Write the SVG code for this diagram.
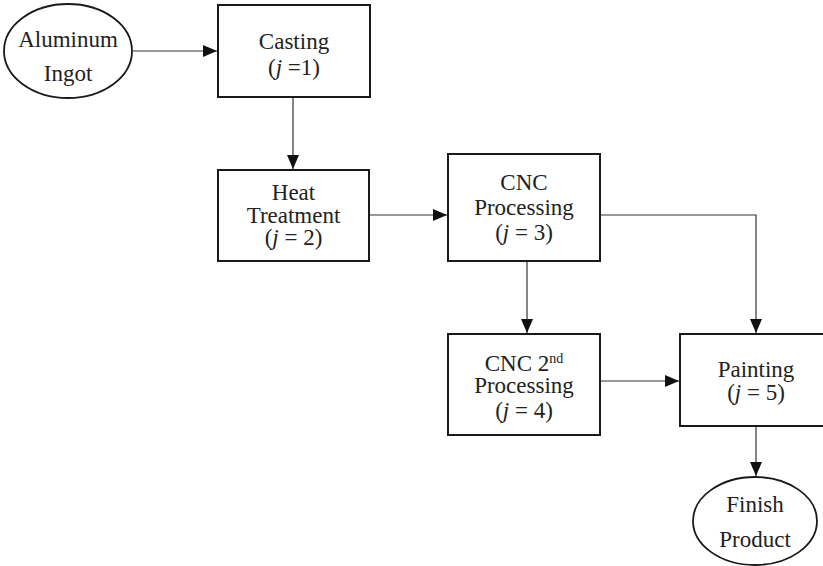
<svg xmlns="http://www.w3.org/2000/svg" width="823" height="566" viewBox="0 0 823 566">
<style>
.box{fill:#fff;stroke:#1a1a1a;stroke-width:2}
.ell{fill:#fff;stroke:#1a1a1a;stroke-width:1.8}
.t{font-family:"Liberation Serif","DejaVu Serif",serif;font-size:23px;fill:#222;text-anchor:middle}
.i{font-style:italic}
.c{fill:none;stroke:#333;stroke-width:1.2}
</style>
<defs>
<marker id="ah" markerWidth="14" markerHeight="12" refX="14" refY="6" orient="auto" markerUnits="userSpaceOnUse">
<path d="M0,0 L14,6 L0,12 Z" fill="#111"/>
</marker>
</defs>
<g id="connectors">
<line class="c" x1="133" y1="51" x2="217" y2="51" marker-end="url(#ah)"/>
<line class="c" x1="293" y1="97" x2="293" y2="169" marker-end="url(#ah)"/>
<line class="c" x1="369" y1="215" x2="447" y2="215" marker-end="url(#ah)"/>
<polyline class="c" points="600,215 756,215 756,333" marker-end="url(#ah)"/>
<line class="c" x1="527" y1="262" x2="527" y2="333" marker-end="url(#ah)"/>
<line class="c" x1="600" y1="381" x2="679" y2="381" marker-end="url(#ah)"/>
<line class="c" x1="756" y1="426" x2="756" y2="476" marker-end="url(#ah)"/>
</g>
<g id="aluminum-ingot">
<ellipse class="ell" cx="68" cy="51" rx="64" ry="47"/>
<text class="t" x="68" y="47">Aluminum</text>
<text class="t" x="68" y="81">Ingot</text>
</g>
<g id="casting">
<rect class="box" x="218" y="5" width="152" height="92"/>
<text class="t" x="294" y="49">Casting</text>
<text class="t" x="294" y="75">(<tspan class="i">j</tspan> =1)</text>
</g>
<g id="heat-treatment">
<rect class="box" x="218" y="170" width="151" height="91"/>
<text class="t" x="293.5" y="200">Heat</text>
<text class="t" x="293.5" y="223">Treatment</text>
<text class="t" x="293.5" y="245">(<tspan class="i">j</tspan> = 2)</text>
</g>
<g id="cnc-processing">
<rect class="box" x="448" y="154" width="152" height="107"/>
<text class="t" x="524" y="190">CNC</text>
<text class="t" x="524" y="215">Processing</text>
<text class="t" x="524" y="240">(<tspan class="i">j</tspan> = 3)</text>
</g>
<g id="cnc-2nd-processing">
<rect class="box" x="448" y="334" width="152" height="101"/>
<text class="t" x="524" y="371">CNC 2<tspan font-size="14" dy="-8">nd</tspan></text>
<text class="t" x="524" y="393">Processing</text>
<text class="t" x="524" y="418">(<tspan class="i">j</tspan> = 4)</text>
</g>
<g id="painting">
<rect class="box" x="680" y="334" width="152" height="92"/>
<text class="t" x="756" y="377">Painting</text>
<text class="t" x="756" y="400">(<tspan class="i">j</tspan> = 5)</text>
</g>
<g id="finish-product">
<ellipse class="ell" cx="755" cy="521" rx="62" ry="44"/>
<text class="t" x="755" y="512">Finish</text>
<text class="t" x="755" y="547">Product</text>
</g>
</svg>
